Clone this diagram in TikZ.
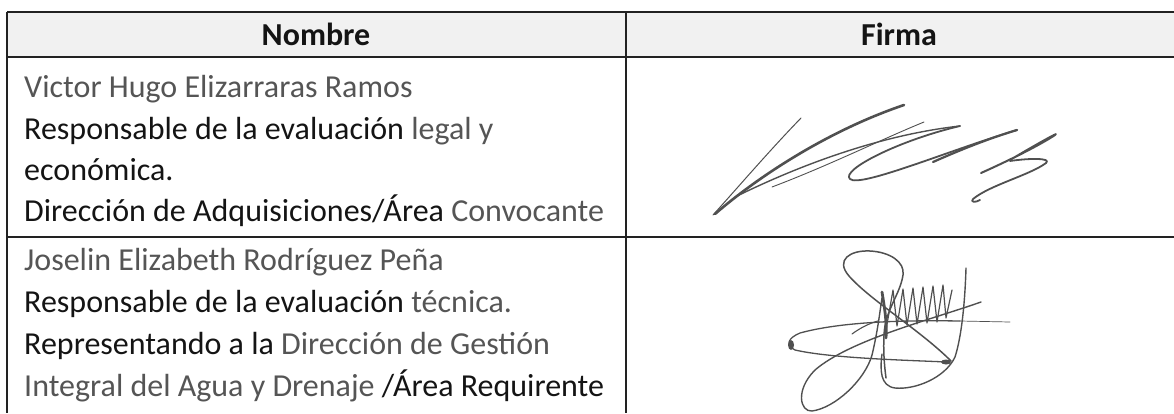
\documentclass[tikz,border=0pt]{standalone}
\usepackage{fontspec}
\setmainfont{Carlito}
\definecolor{ink}{HTML}{141414}
\definecolor{faint}{HTML}{555555}
\definecolor{pen}{HTML}{505050}
\definecolor{hdr}{HTML}{F1F1F1}
\definecolor{rule}{HTML}{222222}
\tikzset{
  cell/.style={anchor=base west, inner sep=0pt, text=ink, font=\fontsize{32}{38}\selectfont},
  head/.style={anchor=base, inner sep=0pt, text=ink, font=\fontsize{32}{38}\selectfont\bfseries},
  grid/.style={draw=rule, line width=1.6pt},
  sig/.style={draw=pen, line cap=round, line join=round, line width=1.6pt},
}
\begin{document}
\begin{tikzpicture}[x=1pt,y=-1pt]
\useasboundingbox (0,0) rectangle (1174,413);
% header background
\fill[hdr] (7,12) rectangle (1174,57);
% table rules
\draw[grid] (7,12) -- (1174,12);
\draw[grid] (7,57) -- (1174,57);
\draw[grid] (7,237) -- (1174,237);
\draw[grid] (7,12) -- (7,413);
\draw[grid] (626,12) -- (626,413);
% header
\node[head] (hn) at (316,45) {Nombre};
\node[head] (hf) at (899,45) {Firma};
% row 1
\node[cell] (a1) at (24,97) {\textcolor{faint}{Victor Hugo Elizarraras Ramos}};
\node[cell] (a2) at (24,139) {Responsable de la evaluación \textcolor{faint}{legal y}};
\node[cell] (a3) at (24,180) {económica.};
\node[cell] (a4) at (24,221) {Dirección de Adquisiciones/Área \textcolor{faint}{Convocante}};
% row 2
\node[cell] (b1) at (24,270) {\textcolor{faint}{Joselin Elizabeth Rodríguez Peña}};
\node[cell] (b2) at (24,312) {Responsable de la evaluación \textcolor{faint}{técnica.}};
\node[cell] (b3) at (24,354) {Representando a la \textcolor{faint}{Dirección de Gestión}};
\node[cell] (b4) at (24,396) {\textcolor{faint}{Integral del Agua y Drenaje} /Área Requirente};
% signature 1
\draw[sig, line width=1pt] (713,215) .. controls (740,185) and (770,150) .. (801,118);
\draw[sig, line width=2.6pt] (715,214) .. controls (760,175) and (830,130) .. (904,105);
\draw[sig, line width=1.4pt] (735,197) .. controls (800,165) and (880,135) .. (960,126);
\draw[sig, line width=0.9pt] (772,187) .. controls (830,165) and (880,140) .. (924,122);
\draw[sig, line width=1.8pt] (960,126) .. controls (900,140) and (840,170) .. (850,179) .. controls (860,188) and (950,150) .. (1017,130);
\draw[sig, line width=2.2pt] (933,162) .. controls (960,150) and (990,138) .. (1017,130);
\draw[sig, line width=2pt] (981,173) .. controls (1010,160) and (1040,145) .. (1055,135) .. controls (1062,130) and (1030,148) .. (1010,160);
\draw[sig, line width=1.8pt] (1010,161) .. controls (1030,158) and (1052,158) .. (1046,163) .. controls (1030,175) and (990,185) .. (973,199) .. controls (970,202) and (975,203) .. (980,200);
% signature 2
\draw[sig, line width=1.5pt] (951,361) .. controls (920,330) and (870,300) .. (849,276) .. controls (835,260) and (850,250) .. (870,251) .. controls (890,252) and (905,262) .. (903,275) .. controls (900,295) and (885,310) .. (884,335) .. controls (883,355) and (885,370) .. (886,378);
\draw[sig, line width=1.3pt] (947,362) .. controls (900,360) and (830,358) .. (795,350) .. controls (785,345) and (788,338) .. (800,333) .. controls (840,322) and (900,320) .. (960,321);
\draw[sig, line width=0.7pt] (960,321) -- (1010,322);
\draw[sig, line width=1.4pt] (981,302) .. controls (930,320) and (850,340) .. (815,370) .. controls (795,390) and (800,412) .. (812,411) .. controls (835,408) and (865,380) .. (872,355) .. controls (878,330) and (880,310) .. (882,298);
\draw[sig, line width=1.4pt] (966,268) .. controls (965,300) and (962,335) .. (955,357) .. controls (945,378) and (915,390) .. (895,388) .. controls (880,386) and (880,370) .. (882,354);
\draw[sig, line width=1.2pt] (886,330) -- (893,290) -- (897,326) -- (903,289) -- (907,325) -- (913,288) -- (917,324) -- (923,287) -- (927,323) -- (933,286) -- (937,322) -- (943,285) -- (946,318) -- (952,290);
\draw[sig, line width=2.8pt] (882,292) .. controls (884,305) and (887,320) .. (886,338);
\draw[sig, line width=1.1pt] (852,334) .. controls (860,328) and (870,323) .. (878,321);
\fill[pen] (791,345) ellipse [x radius=3pt, y radius=5pt];
\fill[pen] (946,362) ellipse [x radius=5pt, y radius=2.5pt];
\end{tikzpicture}
\end{document}
